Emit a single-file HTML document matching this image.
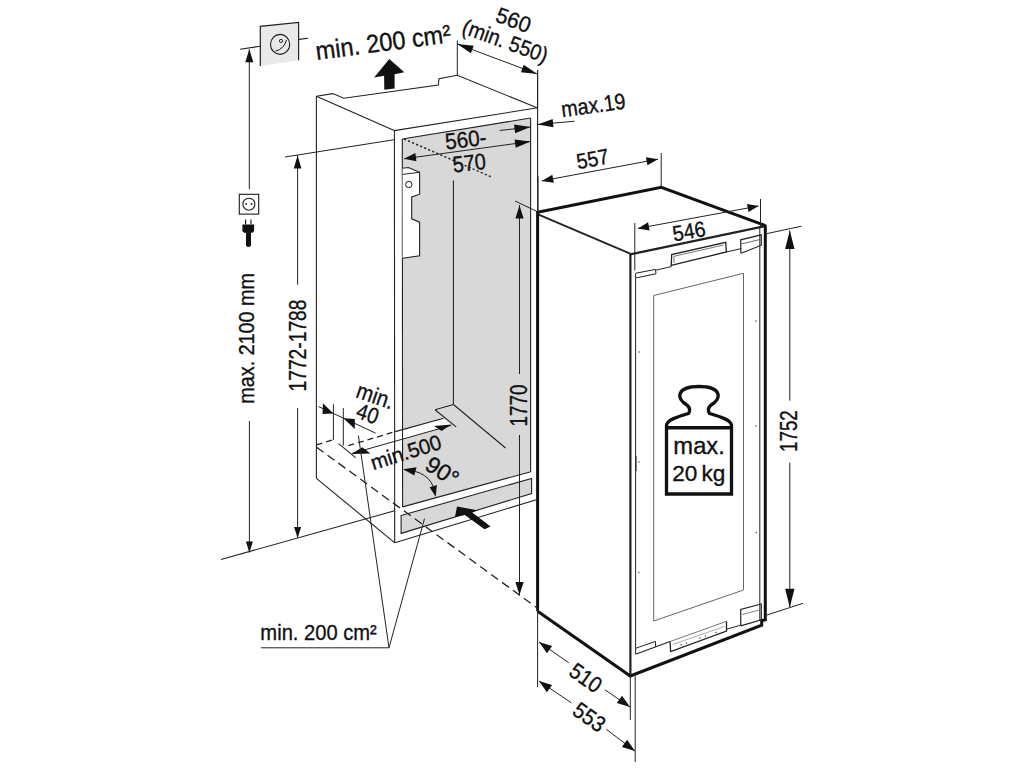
<!DOCTYPE html>
<html><head><meta charset="utf-8"><style>
html,body{margin:0;padding:0;background:#fff;width:1024px;height:768px;overflow:hidden}
svg{display:block}
text{font-family:"Liberation Sans",sans-serif}
</style></head><body>
<svg width="1024" height="768" viewBox="0 0 1024 768">
<rect width="1024" height="768" fill="#fff"/>
<polygon points="402.30,139.00 530.50,118.00 530.50,471.70 402.60,506.90" fill="#d8d8d8"/>
<polygon points="394.50,431.60 443.60,418.30 451.40,425.30 394.50,441.20" fill="#ffffff"/>
<polygon points="401.10,515.50 531.60,478.40 531.60,493.60 401.10,533.40" fill="#d8d8d8"/>
<polygon points="401.10,515.50 531.60,478.40 531.60,493.60 401.10,533.40" fill="none" stroke="#222" stroke-width="1.1" stroke-linejoin="miter" />
<polyline points="316.40,96.30 332.80,93.60 343.80,98.30 438.30,85.00 439.00,78.80 457.30,75.30 537.60,108.00" fill="none" stroke="#222" stroke-width="1.1" stroke-linejoin="miter" />
<line x1="316.40" y1="96.30" x2="394.20" y2="130.60" stroke="#222" stroke-width="1.1" />
<line x1="394.20" y1="130.60" x2="537.60" y2="107.80" stroke="#222" stroke-width="1.1" />
<line x1="316.40" y1="96.30" x2="316.40" y2="478.40" stroke="#222" stroke-width="1.1" />
<line x1="394.40" y1="130.60" x2="394.70" y2="542.80" stroke="#222" stroke-width="1.1" />
<line x1="537.60" y1="70.30" x2="537.60" y2="500.00" stroke="#222" stroke-width="1.1" />
<line x1="457.30" y1="40.40" x2="457.30" y2="75.30" stroke="#222" stroke-width="1.0" />
<line x1="402.30" y1="139.00" x2="530.50" y2="118.00" stroke="#222" stroke-width="1.1" />
<line x1="402.30" y1="139.00" x2="402.60" y2="506.90" stroke="#222" stroke-width="1.1" />
<line x1="530.60" y1="118.00" x2="530.60" y2="471.70" stroke="#222" stroke-width="1.1" />
<line x1="402.60" y1="506.90" x2="530.80" y2="471.70" stroke="#222" stroke-width="1.1" />
<line x1="316.40" y1="478.40" x2="394.80" y2="542.80" stroke="#222" stroke-width="1.1" />
<line x1="394.80" y1="542.80" x2="536.30" y2="499.80" stroke="#222" stroke-width="1.1" />
<line x1="453.40" y1="180.50" x2="453.40" y2="404.50" stroke="#222" stroke-width="1.1" />
<line x1="453.40" y1="404.50" x2="505.60" y2="448.00" stroke="#222" stroke-width="1.1" />
<line x1="435.00" y1="409.70" x2="453.40" y2="404.50" stroke="#222" stroke-width="1.1" />
<line x1="435.00" y1="409.70" x2="456.20" y2="426.90" stroke="#222" stroke-width="1.1" />
<line x1="395.20" y1="431.60" x2="443.60" y2="418.30" stroke="#222" stroke-width="1.1" />
<line x1="348.30" y1="445.60" x2="395.20" y2="431.60" stroke="#222" stroke-width="1.3" stroke-dasharray="6 4"/>
<line x1="316.60" y1="444.80" x2="333.40" y2="439.80" stroke="#222" stroke-width="1.3" stroke-dasharray="6 4"/>
<line x1="338.60" y1="443.60" x2="355.60" y2="457.70" stroke="#222" stroke-width="1.1" />
<line x1="316.60" y1="447.20" x2="536.50" y2="607.50" stroke="#222" stroke-width="1.3" stroke-dasharray="8.5 5"/>
<line x1="221.00" y1="559.50" x2="394.70" y2="510.80" stroke="#222" stroke-width="1.1" />
<polyline points="402.60,168.20 408.30,167.50 419.60,172.30 419.60,194.20 411.70,197.00 411.70,218.80 419.60,222.20 419.60,255.80 402.60,258.20" fill="#ffffff" stroke="#222" stroke-width="1.1" stroke-linejoin="miter" />
<line x1="402.60" y1="174.40" x2="419.60" y2="172.30" stroke="#222" stroke-width="1.0" />
<circle cx="408.8" cy="184.5" r="3.2" fill="none" stroke="#1a1a1a" stroke-width="1"/>
<line x1="404.00" y1="139.00" x2="492.50" y2="177.40" stroke="#222" stroke-width="1.4" stroke-dasharray="2.2 2.2"/>
<polygon points="538.00,212.50 661.30,187.30 764.80,225.50 765.50,620.00 761.70,625.00 630.30,676.00 537.60,611.30" fill="#ffffff"/>
<line x1="538.00" y1="214.40" x2="630.20" y2="253.60" stroke="#222" stroke-width="1.8" />
<line x1="630.20" y1="254.30" x2="764.00" y2="226.30" stroke="#222" stroke-width="2.2" />
<line x1="630.40" y1="253.60" x2="630.40" y2="676.00" stroke="#222" stroke-width="2.2" />
<polyline points="537.60,611.30 537.60,212.30 661.30,187.30 764.20,225.20 765.30,226.00 765.30,619.70 761.70,620.50 761.70,625.20 630.30,676.00 537.60,611.30" fill="none" stroke="#111" stroke-width="3.0" stroke-linejoin="miter" />
<line x1="635.60" y1="273.50" x2="635.60" y2="654.00" stroke="#222" stroke-width="1.0" />
<line x1="759.80" y1="226.00" x2="759.80" y2="620.00" stroke="#222" stroke-width="1.0" />
<polyline points="635.60,273.30 655.40,269.40 656.00,273.80 636.20,277.90" fill="none" stroke="#222" stroke-width="1.0" stroke-linejoin="miter" />
<line x1="656.00" y1="270.20" x2="671.20" y2="266.60" stroke="#222" stroke-width="1.0" />
<polyline points="671.20,266.60 671.70,254.60 725.70,242.30 726.40,252.00 671.20,265.30" fill="none" stroke="#222" stroke-width="1.3" stroke-linejoin="miter" />
<polyline points="674.00,263.00 674.00,256.30 723.50,245.00" fill="none" stroke="#555" stroke-width="0.8" stroke-linejoin="miter" />
<line x1="726.40" y1="252.00" x2="741.20" y2="248.60" stroke="#222" stroke-width="1.0" />
<polyline points="740.90,253.30 740.70,239.80 761.20,234.80 761.30,245.20 741.30,253.20" fill="none" stroke="#222" stroke-width="1.2" stroke-linejoin="miter" />
<line x1="741.30" y1="244.00" x2="760.00" y2="239.50" stroke="#444" stroke-width="0.8" />
<line x1="635.60" y1="654.20" x2="670.10" y2="641.50" stroke="#222" stroke-width="1.1" />
<polyline points="635.60,648.30 655.50,641.40 655.60,646.90" fill="none" stroke="#222" stroke-width="1.0" stroke-linejoin="miter" />
<polyline points="670.10,641.50 670.60,651.50 726.50,631.00 726.50,621.30" fill="none" stroke="#222" stroke-width="1.3" stroke-linejoin="miter" />
<line x1="670.10" y1="641.50" x2="726.50" y2="621.30" stroke="#777" stroke-width="1.0" />
<line x1="672.50" y1="644.50" x2="724.50" y2="626.50" stroke="#888" stroke-width="0.7" />
<circle cx="681" cy="644.8" r="0.7" fill="#333"/>
<circle cx="686.5" cy="643" r="0.7" fill="#333"/>
<circle cx="700" cy="638" r="0.7" fill="#333"/>
<circle cx="705.5" cy="636" r="0.7" fill="#333"/>
<circle cx="716" cy="632.5" r="0.7" fill="#333"/>
<line x1="726.50" y1="629.20" x2="740.80" y2="625.20" stroke="#222" stroke-width="1.0" />
<polyline points="740.80,625.80 740.70,609.50 761.20,604.00 761.30,619.80 740.80,625.80" fill="none" stroke="#222" stroke-width="1.2" stroke-linejoin="miter" />
<line x1="742.00" y1="614.50" x2="760.00" y2="609.80" stroke="#555" stroke-width="0.7" />
<circle cx="639" cy="352" r="0.8" fill="#555"/>
<circle cx="756" cy="426" r="0.8" fill="#555"/>
<circle cx="639" cy="462" r="0.8" fill="#555"/>
<circle cx="638.8" cy="572.5" r="0.8" fill="#555"/>
<circle cx="756.3" cy="532.5" r="0.8" fill="#555"/>
<circle cx="756" cy="321" r="0.8" fill="#555"/>
<line x1="635.80" y1="456.00" x2="635.80" y2="471.00" stroke="#333" stroke-width="1.6" />
<polygon points="653.70,295.50 743.50,273.30 743.50,590.00 653.70,621.00" fill="none" stroke="#666" stroke-width="1.0" stroke-linejoin="miter" />
<line x1="240.10" y1="49.30" x2="260.30" y2="46.20" stroke="#222" stroke-width="1.1" />
<line x1="299.00" y1="39.40" x2="308.20" y2="38.30" stroke="#222" stroke-width="1.1" />
<line x1="249.30" y1="49.30" x2="249.30" y2="189.30" stroke="#222" stroke-width="1.0" />
<polygon points="249.30,49.30 253.37,62.30 245.23,62.30" fill="#111"/>
<line x1="249.40" y1="421.00" x2="249.40" y2="552.50" stroke="#222" stroke-width="1.0" />
<polygon points="249.40,552.50 245.86,541.50 252.94,541.50" fill="#111"/>
<line x1="285.00" y1="157.00" x2="394.20" y2="139.70" stroke="#222" stroke-width="1.0" />
<line x1="297.60" y1="155.00" x2="297.60" y2="284.60" stroke="#222" stroke-width="1.0" />
<polygon points="297.60,155.50 301.44,168.50 293.77,168.50" fill="#111"/>
<line x1="297.60" y1="408.00" x2="297.60" y2="538.00" stroke="#222" stroke-width="1.0" />
<polygon points="297.60,538.00 294.06,527.00 301.14,527.00" fill="#111"/>
<line x1="457.30" y1="44.00" x2="537.30" y2="74.00" stroke="#222" stroke-width="1.0" />
<polygon points="457.30,44.00 473.69,45.87 470.88,53.36" fill="#111"/>
<polygon points="537.30,74.00 520.91,72.13 523.72,64.64" fill="#111"/>
<line x1="537.60" y1="70.30" x2="537.60" y2="108.00" stroke="#222" stroke-width="1.0" />
<line x1="574.60" y1="121.20" x2="537.70" y2="124.50" stroke="#222" stroke-width="1.0" />
<polygon points="537.70,124.50 552.67,119.01 553.41,127.24" fill="#111"/>
<line x1="499.70" y1="130.50" x2="530.50" y2="127.00" stroke="#222" stroke-width="1.0" />
<polygon points="530.50,127.00 515.10,133.20 514.10,124.41" fill="#111"/>
<line x1="404.00" y1="158.80" x2="530.50" y2="141.50" stroke="#222" stroke-width="1.0" />
<polygon points="530.50,141.50 515.72,147.81 514.57,139.39" fill="#111"/>
<polygon points="404.00,158.80 415.33,153.08 416.45,161.27" fill="#111"/>
<line x1="538.00" y1="176.00" x2="538.00" y2="212.00" stroke="#222" stroke-width="1.0" />
<line x1="661.20" y1="153.00" x2="661.20" y2="187.50" stroke="#222" stroke-width="1.0" />
<line x1="541.80" y1="180.90" x2="658.00" y2="159.20" stroke="#222" stroke-width="1.0" />
<polygon points="541.80,180.90 552.35,174.73 553.86,182.85" fill="#111"/>
<polygon points="658.00,159.20 647.45,165.37 645.94,157.25" fill="#111"/>
<line x1="634.80" y1="223.00" x2="634.80" y2="270.50" stroke="#222" stroke-width="1.0" />
<line x1="760.50" y1="199.00" x2="760.50" y2="226.00" stroke="#222" stroke-width="1.0" />
<line x1="638.00" y1="228.40" x2="758.60" y2="206.00" stroke="#222" stroke-width="1.0" />
<polygon points="638.00,228.40 648.06,222.33 649.57,230.45" fill="#111"/>
<polygon points="758.60,206.00 748.54,212.07 747.03,203.95" fill="#111"/>
<line x1="515.00" y1="201.00" x2="536.40" y2="211.20" stroke="#222" stroke-width="1.0" />
<line x1="519.50" y1="205.00" x2="519.50" y2="374.00" stroke="#222" stroke-width="1.0" />
<polygon points="519.50,205.50 523.63,218.50 515.37,218.50" fill="#111"/>
<line x1="519.50" y1="435.00" x2="519.50" y2="595.00" stroke="#222" stroke-width="1.0" />
<polygon points="519.50,595.00 515.37,582.00 523.63,582.00" fill="#111"/>
<line x1="767.00" y1="233.60" x2="801.50" y2="226.20" stroke="#222" stroke-width="1.0" />
<line x1="789.80" y1="230.50" x2="789.80" y2="400.70" stroke="#222" stroke-width="1.0" />
<polygon points="789.80,230.50 794.50,249.00 785.10,249.00" fill="#111"/>
<line x1="789.80" y1="462.50" x2="789.80" y2="607.20" stroke="#222" stroke-width="1.0" />
<polygon points="789.80,607.20 785.10,588.70 794.50,588.70" fill="#111"/>
<line x1="767.00" y1="615.00" x2="803.00" y2="603.30" stroke="#222" stroke-width="1.0" />
<line x1="537.60" y1="611.30" x2="537.60" y2="687.00" stroke="#222" stroke-width="1.0" />
<line x1="630.30" y1="676.00" x2="630.30" y2="720.00" stroke="#222" stroke-width="1.0" />
<line x1="635.20" y1="676.00" x2="635.20" y2="762.00" stroke="#222" stroke-width="1.0" />
<line x1="539.00" y1="642.00" x2="568.80" y2="662.80" stroke="#222" stroke-width="1.0" />
<line x1="605.00" y1="689.80" x2="630.00" y2="707.00" stroke="#222" stroke-width="1.0" />
<polygon points="539.00,642.00 552.15,645.96 547.01,653.16" fill="#111"/>
<polygon points="630.00,707.00 616.85,703.04 621.99,695.84" fill="#111"/>
<line x1="539.00" y1="681.00" x2="571.30" y2="702.80" stroke="#222" stroke-width="1.0" />
<line x1="606.30" y1="729.30" x2="635.00" y2="751.00" stroke="#222" stroke-width="1.0" />
<polygon points="539.00,681.00 552.11,685.08 546.90,692.23" fill="#111"/>
<polygon points="635.00,751.00 621.89,746.92 627.10,739.77" fill="#111"/>
<line x1="333.40" y1="404.20" x2="333.40" y2="440.20" stroke="#222" stroke-width="1.0" />
<line x1="343.30" y1="408.00" x2="343.30" y2="445.60" stroke="#222" stroke-width="1.0" />
<line x1="318.60" y1="406.60" x2="375.60" y2="433.10" stroke="#222" stroke-width="1.0" />
<polygon points="333.40,413.50 322.90,403.20 322.60,414.00" fill="#111"/>
<polygon points="343.40,418.20 354.80,419.00 354.80,429.00" fill="#111"/>
<line x1="352.20" y1="453.40" x2="451.40" y2="425.30" stroke="#222" stroke-width="1.0" />
<polygon points="351.40,454.00 362.40,447.20 370.40,453.60" fill="#111"/>
<polygon points="451.30,424.40 434.10,425.90 441.60,430.90" fill="#111"/>
<path d="M405,470 C420,470.5 432,477 434.8,492" fill="none" stroke="#1a1a1a" stroke-width="1"/>
<polygon points="403.20,469.30 416.60,467.20 414.30,475.50" fill="#111"/>
<polygon points="435.70,496.80 429.60,487.30 436.90,485.00" fill="#111"/>
<line x1="261.00" y1="647.80" x2="389.00" y2="647.80" stroke="#222" stroke-width="1.0" />
<line x1="389.00" y1="647.80" x2="358.40" y2="435.50" stroke="#222" stroke-width="1.0" />
<line x1="389.00" y1="647.80" x2="424.50" y2="518.60" stroke="#222" stroke-width="1.0" />
<polygon points="389.30,58.90 404.30,72.20 394.60,74.20 394.60,88.60 384.30,89.80 384.10,75.70 374.10,77.50" fill="#111"/>
<polygon points="457.00,506.40 477.20,510.20 472.20,512.60 490.60,526.40 484.50,529.20 464.90,514.90 455.00,517.00" fill="#111"/>
<polygon points="260.30,26.40 298.60,22.50 298.60,60.30 260.30,66.00" fill="#e9e9e9"/>
<polyline points="260.30,66.00 260.30,26.40 298.60,22.50 298.60,60.30" fill="none" stroke="#222" stroke-width="1.2" stroke-linejoin="miter" />
<ellipse cx="280.1" cy="44.4" rx="9.6" ry="10" fill="none" stroke="#1a1a1a" stroke-width="1.1"/>
<circle cx="281" cy="40.9" r="1.6" fill="none" stroke="#1a1a1a" stroke-width="0.9"/>
<path d="M275.5,51.2 Q284,49 286.5,40" fill="none" stroke="#1a1a1a" stroke-width="1"/>
<rect x="239.3" y="194.3" width="19.4" height="19.8" fill="none" stroke="#1a1a1a" stroke-width="1.1"/>
<circle cx="248.9" cy="204.2" r="6" fill="none" stroke="#1a1a1a" stroke-width="1.1"/>
<circle cx="246.1" cy="203.9" r="0.9" fill="#111"/><circle cx="251.6" cy="203.9" r="0.9" fill="#111"/>
<rect x="245" y="219.5" width="1.1" height="5" fill="#111"/><rect x="250.4" y="219.5" width="1.1" height="5" fill="#111"/>
<path d="M242.4,224.4 L254.1,224.4 L254.1,230.5 Q254,232.6 251,233 L251,245.5 Q248.5,248.5 246,245.5 L246,233 Q242.5,232.6 242.4,230.5 Z" fill="#111"/>
<path d="M666.5,494 L666.5,425.5 C667,420 676,417 688.5,413.5 C690,411 690,408 687.5,405.5 C675,398 677,386.5 699,386.5 C721,386.5 723,398 710.5,405.5 C708,408 708,411 709.5,413.5 C722,417 731,420 731.5,425.5 L731.5,494 Z" fill="none" stroke="#111" stroke-width="3.3"/>
<line x1="666.50" y1="427.80" x2="731.50" y2="427.80" stroke="#111" stroke-width="3.4" />
<g font-family="Liberation Sans, sans-serif" stroke="#111" stroke-width="0.35">
<text transform="translate(384.30,51.10) rotate(-7.45) scale(0.917,1)" font-size="25.7" text-anchor="middle" fill="#111" >min. 200 cm²</text>
<text transform="translate(510.90,27.20) rotate(20) scale(0.97,1)" font-size="22" text-anchor="middle" fill="#111" >560</text>
<text transform="translate(502.70,48.10) rotate(19.7) scale(0.9,1)" font-size="22" text-anchor="middle" fill="#111" >(min. 550)</text>
<text transform="translate(594.40,112.90) rotate(-7.9) scale(0.883,1)" font-size="22.4" text-anchor="middle" fill="#111" >max.19</text>
<text transform="translate(466.60,147.10) rotate(-6.4) scale(0.917,1)" font-size="22.6" text-anchor="middle" fill="#111" >560-</text>
<text transform="translate(470.10,170.70) rotate(-6.0) scale(0.883,1)" font-size="22.6" text-anchor="middle" fill="#111" >570</text>
<text transform="translate(594.00,166.20) rotate(-10.5) scale(0.9,1)" font-size="21.7" text-anchor="middle" fill="#111" >557</text>
<text transform="translate(690.30,238.60) rotate(-10) scale(0.91,1)" font-size="21.7" text-anchor="middle" fill="#111" >546</text>
<text transform="translate(526.90,405.40) rotate(-90) scale(0.8,1)" font-size="23.6" text-anchor="middle" fill="#111" >1770</text>
<text transform="translate(797.30,431.10) rotate(-90) scale(0.785,1)" font-size="24" text-anchor="middle" fill="#111" >1752</text>
<text transform="translate(253.90,338.35) rotate(-90) scale(0.882,1)" font-size="22.4" text-anchor="middle" fill="#111" >max. 2100 mm</text>
<text transform="translate(305.60,345.50) rotate(-90) scale(0.833,1)" font-size="23.1" text-anchor="middle" fill="#111" >1772-1788</text>
<text transform="translate(372.80,403.30) rotate(19) scale(0.886,1)" font-size="22.7" text-anchor="middle" fill="#111" >min.</text>
<text transform="translate(365.20,420.90) rotate(19) scale(0.89,1)" font-size="22.3" text-anchor="middle" fill="#111" >40</text>
<text transform="translate(408.10,459.30) rotate(-17.4) scale(0.98,1)" font-size="21" text-anchor="middle" fill="#111" >min.500</text>
<text transform="translate(438.00,478.00) rotate(33) scale(1.0,1)" font-size="23" text-anchor="middle" fill="#111" >90°</text>
<text transform="translate(318.60,639.60) rotate(0) scale(0.9,1)" font-size="22.4" text-anchor="middle" fill="#111" >min. 200 cm²</text>
<text transform="translate(699.10,453.50) rotate(0) scale(0.99,1)" font-size="24" text-anchor="middle" fill="#111" >max.</text>
<text transform="translate(672.20,480.70) rotate(0) scale(1.0,1)" font-size="22.6" text-anchor="start" fill="#111" >20</text>
<text transform="translate(701.50,480.70) rotate(0) scale(1.0,1)" font-size="22.6" text-anchor="start" fill="#111" >kg</text>
<text transform="translate(581.30,684.20) rotate(35) scale(0.9,1)" font-size="22.5" text-anchor="middle" fill="#111" >510</text>
<text transform="translate(584.90,723.50) rotate(35) scale(0.9,1)" font-size="22.5" text-anchor="middle" fill="#111" >553</text>
</g>
</svg></body></html>
